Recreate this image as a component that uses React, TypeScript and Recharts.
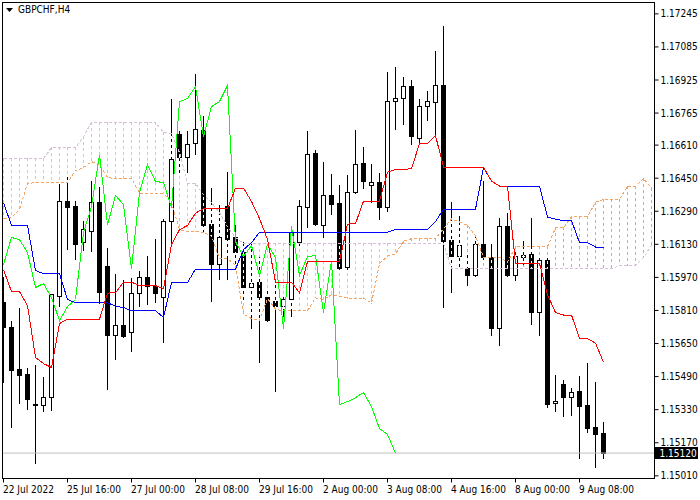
import React from "react";
import { ComposedChart, Bar, Line, XAxis, YAxis, ReferenceLine } from "recharts";

// GBPCHF H4 candles, 22 Jul 2022 .. 9 Aug 2022
const opens = [
  1.15848, 1.15727, 1.15524, 1.155, 1.15355, 1.1535, 1.15388, 1.15877, 1.16337, 1.16312,
  1.16138, 1.16192, 1.16332, 1.16022, 1.15688, 1.15737, 1.15703, 1.15892, 1.15969, 1.15926,
  1.15872, 1.1624, 1.16661, 1.1655, 1.16617, 1.1668, 1.16225, 1.16032, 1.16312, 1.16163,
  1.1609, 1.15921, 1.15945, 1.15872, 1.15853, 1.15829, 1.15863, 1.16138, 1.16308, 1.16569,
  1.16221, 1.16366, 1.16327, 1.16017, 1.1638, 1.16521, 1.16414, 1.16429, 1.16308, 1.16821,
  1.16835, 1.16893, 1.16642, 1.16796, 1.16816, 1.16898, 1.16148, 1.16071, 1.16013, 1.15979,
  1.16129, 1.16066, 1.15722, 1.16216, 1.15979, 1.16066, 1.1608, 1.158, 1.16051, 1.15359,
  1.15451, 1.15388, 1.15418, 1.1535, 1.15243, 1.15214,
];
const highs = [
  1.15969, 1.15756, 1.15819, 1.15529, 1.15543, 1.15485, 1.15887, 1.16419, 1.16467, 1.16337,
  1.1624, 1.16434, 1.16404, 1.16109, 1.15983, 1.15954, 1.15964, 1.15998, 1.16071, 1.16153,
  1.1625, 1.1683, 1.16675, 1.16675, 1.16951, 1.16748, 1.164, 1.16317, 1.16477, 1.16221,
  1.16138, 1.16129, 1.16066, 1.15911, 1.15959, 1.15882, 1.16216, 1.16342, 1.16675, 1.16583,
  1.16525, 1.16467, 1.16414, 1.16462, 1.1668, 1.16598, 1.16516, 1.16472, 1.16961, 1.16985,
  1.16937, 1.16922, 1.1683, 1.16869, 1.17062, 1.17183, 1.16332, 1.16264, 1.1608, 1.16163,
  1.16434, 1.16129, 1.16255, 1.16279, 1.16104, 1.16143, 1.16255, 1.16071, 1.16066, 1.15495,
  1.15471, 1.15432, 1.1549, 1.15553, 1.15461, 1.15268,
];
const lows = [
  1.15461, 1.15243, 1.15359, 1.1533, 1.15069, 1.15321, 1.15326, 1.15829, 1.16104, 1.16056,
  1.161, 1.16095, 1.15843, 1.15427, 1.15572, 1.15679, 1.15611, 1.15829, 1.15838, 1.15848,
  1.15655, 1.16138, 1.16477, 1.16477, 1.16564, 1.16192, 1.15853, 1.15959, 1.15959, 1.16017,
  1.15863, 1.15722, 1.15558, 1.15756, 1.15418, 1.1578, 1.1578, 1.16114, 1.16211, 1.16221,
  1.16163, 1.16274, 1.15998, 1.16008, 1.16375, 1.164, 1.16332, 1.1625, 1.16288, 1.16685,
  1.16709, 1.16613, 1.16613, 1.16729, 1.16651, 1.15824, 1.15896, 1.16022, 1.1593, 1.15974,
  1.16056, 1.15688, 1.1564, 1.15974, 1.15954, 1.16032, 1.15742, 1.15688, 1.1534, 1.15321,
  1.15297, 1.15301, 1.15093, 1.15219, 1.1505, 1.15093,
];
const closes = [
  1.15727, 1.15519, 1.15495, 1.15379, 1.1535, 1.15388, 1.15887, 1.16337, 1.16308, 1.16129,
  1.16201, 1.16332, 1.15896, 1.15688, 1.15737, 1.15684, 1.15892, 1.15969, 1.15926, 1.15892,
  1.1624, 1.1654, 1.1655, 1.16613, 1.16685, 1.16221, 1.16032, 1.16163, 1.16153, 1.1609,
  1.15921, 1.1594, 1.15872, 1.15761, 1.15829, 1.15863, 1.16187, 1.16312, 1.16564, 1.16225,
  1.16366, 1.16322, 1.16013, 1.1638, 1.16516, 1.16434, 1.16429, 1.16308, 1.16821, 1.16835,
  1.16893, 1.16651, 1.16796, 1.16821, 1.16898, 1.16143, 1.16071, 1.16124, 1.15979, 1.16129,
  1.16066, 1.15722, 1.16216, 1.15979, 1.16071, 1.16075, 1.158, 1.16051, 1.15355, 1.15369,
  1.15388, 1.15413, 1.15345, 1.15239, 1.1521, 1.1512,
];

// Ichimoku (9, 26, 52)
const tenkan = [
  1.16008, 1.15901, 1.15901, 1.15834, 1.15582, 1.15553, 1.15534, 1.15747, 1.15768, 1.15768,
  1.15768, 1.15768, 1.15768, 1.15894, 1.15896, 1.15947, 1.15947, 1.1593, 1.1593, 1.1593,
  1.15916, 1.16129, 1.16201, 1.16221, 1.16281, 1.16303, 1.16303, 1.16303, 1.16303, 1.16402,
  1.16402, 1.16337, 1.16255, 1.16153, 1.15947, 1.15947, 1.15947, 1.15896, 1.16046, 1.16046,
  1.16046, 1.16046, 1.16046, 1.16228, 1.1623, 1.16339, 1.16339, 1.16339, 1.16479, 1.16492,
  1.16492, 1.16496, 1.16617, 1.16617, 1.16656, 1.16504, 1.16504, 1.16504, 1.16504, 1.16504,
  1.16504, 1.16436, 1.16412, 1.16412, 1.16037, 1.16037, 1.16037, 1.16037, 1.15887, 1.158,
  1.15788, 1.15788, 1.15674, 1.15674, 1.15652, 1.1556,
];
const kijun = [
  1.16332, 1.16221, 1.16221, 1.16221, 1.16003, 1.15988, 1.15988, 1.15988, 1.15863, 1.15848,
  1.15848, 1.15848, 1.15848, 1.15848, 1.1583, 1.15824, 1.15809, 1.15809, 1.15809, 1.15809,
  1.15776, 1.15945, 1.15945, 1.15945, 1.1601, 1.1601, 1.1601, 1.1601, 1.1601, 1.1601,
  1.16104, 1.16138, 1.16189, 1.16189, 1.16189, 1.16189, 1.16189, 1.16189, 1.16189, 1.16189,
  1.16189, 1.16189, 1.16189, 1.16189, 1.16189, 1.16189, 1.16189, 1.16189, 1.16189, 1.16201,
  1.16201, 1.16201, 1.16201, 1.16201, 1.1624, 1.163, 1.163, 1.163, 1.163, 1.163,
  1.16501, 1.16436, 1.16412, 1.16412, 1.16412, 1.16412, 1.16412, 1.16412, 1.16262, 1.16252,
  1.16245, 1.16245, 1.16138, 1.16138, 1.16117, 1.16117,
];
const chikou = [
  1.16032, 1.16163, 1.16153, 1.1609, 1.15921, 1.1594, 1.15872, 1.15761, 1.15829, 1.15863,
  1.16187, 1.16312, 1.16564, 1.16225, 1.16366, 1.16322, 1.16013, 1.1638, 1.16516, 1.16434,
  1.16429, 1.16308, 1.16821, 1.16835, 1.16893, 1.16651, 1.16796, 1.16821, 1.16898, 1.16143,
  1.16071, 1.16124, 1.15979, 1.16129, 1.16066, 1.15722, 1.16216, 1.15979, 1.16071, 1.16075,
  1.158, 1.16051, 1.15355, 1.15369, 1.15388, 1.15413, 1.15345, 1.15239, 1.1521, 1.1512,
];
const spanA = [
  1.16255, 1.16259, 1.16298, 1.16424, 1.16429, 1.16429, 1.16429, 1.16429, 1.16429, 1.16487,
  1.16501, 1.1653, 1.16516, 1.16453, 1.16448, 1.16448, 1.16448, 1.16378, 1.16378, 1.16378,
  1.16378, 1.16332, 1.16201, 1.16192, 1.16192, 1.16187, 1.1617, 1.16061, 1.16061, 1.16028,
  1.15793, 1.15771, 1.15761, 1.15868, 1.15816, 1.15808, 1.15808, 1.15808, 1.15808, 1.15871,
  1.15863, 1.15886, 1.15878, 1.1587, 1.1587, 1.1587, 1.15846, 1.16037, 1.16073, 1.16083,
  1.16146, 1.16157, 1.16157, 1.16157, 1.16157, 1.16206, 1.16253, 1.16238, 1.16222, 1.16171,
  1.16068, 1.16068, 1.16068, 1.16043, 1.16118, 1.16118, 1.16118, 1.16118, 1.16118, 1.16209,
  1.1621, 1.16264, 1.16264, 1.16264, 1.16334, 1.16347, 1.16347, 1.16349, 1.16409, 1.16409,
  1.16448, 1.16402,
];
const spanB = [
  1.16545, 1.16545, 1.16545, 1.16545, 1.16545, 1.16545, 1.16598, 1.16598, 1.16598, 1.16598,
  1.16651, 1.16721, 1.16721, 1.16721, 1.16721, 1.16721, 1.16721, 1.16721, 1.16721, 1.16721,
  1.16671, 1.16666, 1.16574, 1.16426, 1.16424, 1.16371, 1.16332, 1.16284, 1.16216, 1.16163,
  1.16134, 1.16134, 1.16134, 1.16134, 1.16134, 1.16134, 1.16134, 1.16134, 1.16134, 1.16134,
  1.16134, 1.16134, 1.16134, 1.16134, 1.16134, 1.16134, 1.16134, 1.16134, 1.16134, 1.16134,
  1.16134, 1.16134, 1.16134, 1.16134, 1.16134, 1.16134, 1.16013, 1.16013, 1.16013, 1.16013,
  1.16013, 1.16013, 1.16013, 1.16013, 1.16013, 1.16013, 1.16013, 1.16013, 1.16013, 1.16013,
  1.16013, 1.16013, 1.16013, 1.16013, 1.16013, 1.16013, 1.16013, 1.16027, 1.16027, 1.16027,
  1.16066, 1.16126,
];

const timeTicks = [0, 8, 16, 24, 32, 40, 48, 56, 64, 72];
const timeLabels = [
  "22 Jul 2022", "25 Jul 16:00", "27 Jul 00:00", "28 Jul 08:00", "29 Jul 16:00",
  "2 Aug 00:00", "3 Aug 08:00", "4 Aug 16:00", "8 Aug 00:00", "9 Aug 08:00",
];
const priceTicks = [
  1.17245, 1.17085, 1.16925, 1.16765, 1.1661, 1.1645, 1.1629, 1.1613,
  1.1597, 1.1581, 1.1565, 1.1549, 1.1533, 1.1517, 1.1501,
];
const lastPrice = 1.1512;
const symbol = "GBPCHF,H4";

const SANDY = "#F4A460";
const THISTLE = "#D8BFD8";
const FONT = "'DejaVu Sans Condensed', 'Liberation Sans', sans-serif";

const rows = spanA.map((a, i) => {
  const b = spanB[i];
  const hasBar = i < opens.length;
  return {
    i,
    range: hasBar ? [lows[i], highs[i]] : null,
    open: hasBar ? opens[i] : null,
    close: hasBar ? closes[i] : null,
    tenkan: i < tenkan.length ? tenkan[i] : null,
    kijun: i < kijun.length ? kijun[i] : null,
    chikou: i < chikou.length ? chikou[i] : null,
    spanA: a,
    spanB: b,
    cloud: [Math.min(a, b), Math.max(a, b)],
    up: a >= b,
  };
});

const snap = (v: number) => Math.round(v - 0.5) + 0.5;

function Candle(props: any) {
  const { x, y, width, height, payload } = props;
  if (!payload || !payload.range) return null;
  const [low, high] = payload.range;
  const top = Math.min(y, y + height);
  const h = Math.abs(height);
  const k = high === low ? 0 : h / (high - low);
  const cx = Math.floor(x + width / 2) + 0.5;
  const yH = snap(top);
  const yL = snap(top + h);
  const yO = snap(top + (high - payload.open) * k);
  const yC = snap(top + (high - payload.close) * k);
  const bull = payload.close > payload.open;
  const bTop = Math.min(yO, yC);
  const bBot = Math.max(yO, yC);
  return (
    <g>
      <line x1={cx} x2={cx} y1={yH - 0.5} y2={yL + 0.5} stroke="#000" />
      {bBot - bTop < 1 ? (
        <line x1={cx - 2.5} x2={cx + 2.5} y1={bTop} y2={bTop} stroke="#000" />
      ) : (
        <rect x={cx - 2} y={bTop} width={4} height={bBot - bTop} fill={bull ? "#fff" : "#000"} stroke="#000" />
      )}
    </g>
  );
}

// cloud hatching: coloured dashes under the candles, white gaps over them
function Hatch(props: any) {
  const { x, y, width, height, payload } = props;
  if (!payload) return null;
  const cx = Math.floor(x + width / 2) + 0.5;
  const top = snap(Math.min(y, y + height)) - 0.5;
  const bot = snap(Math.max(y, y + height)) + 0.5;
  return <line x1={cx} x2={cx} y1={top} y2={bot} stroke={payload.up ? SANDY : THISTLE} strokeDasharray="3 3" />;
}
function HatchGap(props: any) {
  const { x, y, width, height, payload } = props;
  if (!payload) return null;
  const cx = Math.floor(x + width / 2) + 0.5;
  const top = snap(Math.min(y, y + height)) - 0.5;
  const bot = snap(Math.max(y, y + height)) + 0.5;
  return <line x1={cx} x2={cx} y1={top} y2={bot} stroke="#fff" strokeDasharray="0 3 3 0" />;
}

function TimeTick(props: any) {
  const { x, y, payload } = props;
  const idx = timeTicks.indexOf(payload.value);
  return (
    <text x={Math.floor(x)} y={y} dy={8} textAnchor="start" fontSize={10} fontFamily={FONT} fill="#000">
      {timeLabels[idx]}
    </text>
  );
}

function PriceTick(props: any) {
  const { x, y, payload } = props;
  return (
    <text x={x} y={y} dy={3.5} textAnchor="start" fontSize={10} fontFamily={FONT} fill="#000">
      {Number(payload.value).toFixed(5)}
    </text>
  );
}

function PriceBox(props: any) {
  const vb = props.viewBox || {};
  const right = vb.x + vb.width;
  const yy = Math.round(vb.y);
  return (
    <g>
      <rect x={right + 0.5} y={yy - 6} width={43} height={12} fill="#000" />
      <text x={right + 5} y={yy + 3.5} fontSize={10} fontFamily={FONT} fill="#fff">
        {lastPrice.toFixed(5)}
      </text>
    </g>
  );
}

const xDomain = [-0.125, 81.375];
const yDomain = [1.14997, 1.173];

export default function App() {
  return (
    <div style={{ position: "relative", width: 700, height: 500, background: "#fff" }}>
      <style>{`body{margin:0} .recharts-line-curve{shape-rendering:crispEdges}`}</style>
      <ComposedChart width={700} height={500} data={rows} margin={{ top: 2.5, right: 0, bottom: 0, left: 2.5 }}>
        <XAxis
          xAxisId="main"
          type="number"
          dataKey="i"
          domain={xDomain}
          allowDataOverflow
          ticks={timeTicks}
          interval={0}
          height={21.5}
          axisLine={false}
          tickLine={{ stroke: "#000" }}
          tickSize={4}
          tickMargin={2}
          tick={<TimeTick />}
        />
        <XAxis xAxisId="zhatch" type="number" dataKey="i" domain={xDomain} allowDataOverflow hide height={0} />
        <XAxis xAxisId="zgap" type="number" dataKey="i" domain={xDomain} allowDataOverflow hide height={0} />
        <YAxis
          orientation="right"
          domain={yDomain}
          allowDataOverflow
          ticks={priceTicks}
          interval={0}
          width={45.5}
          axisLine={false}
          tickLine={{ stroke: "#000" }}
          tickSize={4}
          tickMargin={2}
          tick={<PriceTick />}
        />
        <ReferenceLine xAxisId="main" y={lastPrice} stroke="#C0C0C0" label={<PriceBox />} />
        <Bar xAxisId="zhatch" dataKey="cloud" barSize={5} shape={<Hatch />} isAnimationActive={false} />
        <Bar xAxisId="main" dataKey="range" barSize={5} shape={<Candle />} isAnimationActive={false} />
        <Bar xAxisId="zgap" dataKey="cloud" barSize={5} shape={<HatchGap />} isAnimationActive={false} />
        <Line xAxisId="main" dataKey="spanB" stroke={THISTLE} strokeDasharray="3 2" dot={false} isAnimationActive={false} />
        <Line xAxisId="main" dataKey="spanA" stroke={SANDY} strokeDasharray="3 2" dot={false} isAnimationActive={false} />
        <Line xAxisId="main" dataKey="chikou" stroke="#00FF00" dot={false} isAnimationActive={false} />
        <Line xAxisId="main" dataKey="kijun" stroke="#0000FF" dot={false} isAnimationActive={false} />
        <Line xAxisId="main" dataKey="tenkan" stroke="#FF0000" dot={false} isAnimationActive={false} />
      </ComposedChart>
      <div
        style={{
          position: "absolute", left: 2, top: 2, width: 653, height: 477,
          border: "1px solid #000", boxSizing: "border-box", pointerEvents: "none",
        }}
      />
      <div style={{ position: "absolute", left: 6, top: 4, display: "flex", alignItems: "center", fontFamily: FONT, fontSize: 10, color: "#000" }}>
        <svg width={7} height={4} style={{ marginRight: 5 }}>
          <polygon points="0,0 7,0 3.5,4" fill="#000" />
        </svg>
        <span>{symbol}</span>
      </div>
    </div>
  );
}
